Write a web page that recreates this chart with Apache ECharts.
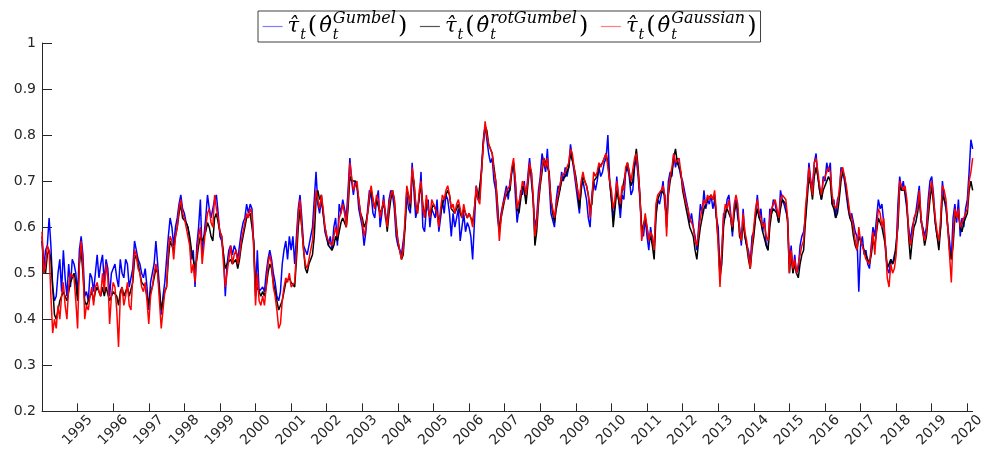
<!DOCTYPE html>
<html>
<head>
<meta charset="utf-8">
<script src="https://cdn.jsdelivr.net/npm/echarts@6/dist/echarts.min.js"></script>
<style>
  html, body { margin: 0; padding: 0; background: #fff; }
  #chart { width: 987px; height: 450px; }
</style>
</head>
<body>
<div id="chart"></div>
<script>
const startYear = 1994;
const pointsPerYear = 20;
const yearTicks = [1995,1996,1997,1998,1999,2000,2001,2002,2003,2004,2005,2006,2007,2008,2009,2010,2011,2012,2013,2014,2015,2016,2017,2018,2019,2020];
const yTicks = [0.2,0.3,0.4,0.5,0.6,0.7,0.8,0.9,1];
const seriesNames = ['Gumbel', 'rotGumbel', 'Gaussian'];

const tauGumbel = [
  0.58,0.51,0.55,0.56,0.62,0.56,0.47,0.44,0.45,0.50,0.53,0.46,0.55,0.49,0.45,0.52,0.47,0.53,0.52,0.50, // 1994
  0.45,0.55,0.58,0.54,0.45,0.46,0.44,0.50,0.49,0.46,0.50,0.54,0.49,0.52,0.54,0.48,0.53,0.51,0.45,0.50, // 1995
  0.50,0.52,0.49,0.47,0.53,0.50,0.49,0.53,0.52,0.47,0.49,0.51,0.57,0.55,0.53,0.52,0.50,0.49,0.51,0.47, // 1996
  0.42,0.48,0.50,0.52,0.57,0.52,0.47,0.41,0.45,0.48,0.48,0.58,0.62,0.60,0.56,0.60,0.62,0.65,0.67,0.64, // 1997
  0.63,0.61,0.60,0.57,0.53,0.55,0.47,0.56,0.60,0.66,0.54,0.58,0.62,0.67,0.64,0.62,0.64,0.66,0.67,0.63, // 1998
  0.58,0.57,0.54,0.45,0.52,0.55,0.56,0.54,0.56,0.55,0.53,0.56,0.59,0.61,0.62,0.65,0.63,0.65,0.64,0.56, // 1999
  0.45,0.55,0.46,0.46,0.47,0.46,0.50,0.53,0.55,0.53,0.50,0.48,0.45,0.44,0.46,0.52,0.55,0.57,0.53,0.58, // 2000
  0.55,0.58,0.52,0.58,0.64,0.67,0.62,0.56,0.55,0.54,0.56,0.58,0.60,0.66,0.72,0.65,0.63,0.66,0.63,0.59, // 2001
  0.59,0.56,0.58,0.55,0.60,0.62,0.56,0.65,0.63,0.66,0.64,0.62,0.68,0.75,0.70,0.67,0.70,0.69,0.64,0.62, // 2002
  0.60,0.56,0.59,0.64,0.68,0.67,0.63,0.62,0.66,0.68,0.60,0.63,0.67,0.62,0.61,0.66,0.68,0.67,0.64,0.58, // 2003
  0.56,0.56,0.54,0.57,0.60,0.67,0.64,0.63,0.74,0.68,0.62,0.62,0.66,0.72,0.60,0.59,0.64,0.66,0.60,0.64, // 2004
  0.64,0.62,0.66,0.59,0.62,0.66,0.63,0.67,0.66,0.63,0.58,0.63,0.60,0.62,0.64,0.57,0.60,0.63,0.59,0.61, // 2005
  0.60,0.58,0.53,0.61,0.69,0.67,0.66,0.73,0.79,0.82,0.79,0.76,0.74,0.75,0.70,0.68,0.62,0.59,0.63,0.65, // 2006
  0.65,0.69,0.66,0.70,0.72,0.74,0.67,0.61,0.64,0.68,0.67,0.70,0.66,0.71,0.75,0.70,0.66,0.60,0.62,0.68, // 2007
  0.71,0.76,0.74,0.72,0.77,0.70,0.63,0.63,0.60,0.66,0.69,0.68,0.72,0.70,0.73,0.71,0.73,0.78,0.75,0.72, // 2008
  0.69,0.66,0.63,0.69,0.70,0.68,0.66,0.62,0.60,0.67,0.70,0.68,0.70,0.73,0.71,0.72,0.74,0.75,0.80,0.70, // 2009
  0.66,0.62,0.65,0.71,0.66,0.62,0.67,0.66,0.72,0.73,0.71,0.67,0.68,0.73,0.75,0.71,0.66,0.60,0.58,0.62, // 2010
  0.58,0.55,0.60,0.57,0.56,0.63,0.66,0.65,0.67,0.70,0.65,0.62,0.70,0.72,0.71,0.76,0.73,0.75,0.73,0.71, // 2011
  0.70,0.68,0.66,0.64,0.61,0.63,0.60,0.58,0.55,0.60,0.65,0.63,0.68,0.64,0.66,0.65,0.67,0.64,0.66,0.62, // 2012
  0.60,0.50,0.54,0.63,0.62,0.66,0.67,0.63,0.58,0.64,0.66,0.62,0.60,0.56,0.64,0.58,0.56,0.55,0.52,0.58, // 2013
  0.59,0.63,0.67,0.62,0.64,0.59,0.62,0.56,0.55,0.64,0.63,0.66,0.65,0.63,0.61,0.68,0.66,0.65,0.65,0.62, // 2014
  0.52,0.56,0.50,0.54,0.50,0.51,0.56,0.58,0.59,0.62,0.68,0.74,0.70,0.69,0.74,0.76,0.71,0.68,0.66,0.71, // 2015
  0.70,0.74,0.72,0.74,0.65,0.66,0.62,0.66,0.67,0.73,0.72,0.70,0.70,0.64,0.62,0.63,0.61,0.59,0.58,0.46, // 2016
  0.56,0.58,0.54,0.55,0.52,0.51,0.56,0.60,0.58,0.62,0.66,0.64,0.65,0.61,0.55,0.51,0.50,0.53,0.52,0.54, // 2017
  0.55,0.65,0.71,0.68,0.70,0.67,0.64,0.60,0.57,0.60,0.60,0.63,0.66,0.69,0.61,0.60,0.58,0.60,0.66,0.70, // 2018
  0.71,0.67,0.61,0.58,0.57,0.60,0.70,0.66,0.64,0.60,0.57,0.53,0.62,0.65,0.61,0.66,0.58,0.62,0.60,0.64, // 2019
  0.66,0.72,0.79,0.77                                                                                  // 2020
];

const tauRotGumbel = [
  0.57,0.51,0.50,0.54,0.55,0.53,0.47,0.41,0.40,0.42,0.44,0.45,0.46,0.45,0.44,0.46,0.48,0.49,0.50,0.48, // 1994
  0.44,0.52,0.55,0.50,0.44,0.43,0.44,0.45,0.46,0.44,0.46,0.47,0.46,0.45,0.47,0.45,0.47,0.47,0.44,0.45, // 1995
  0.46,0.46,0.45,0.43,0.46,0.47,0.45,0.46,0.47,0.45,0.45,0.48,0.53,0.54,0.52,0.50,0.48,0.48,0.47,0.45, // 1996
  0.43,0.46,0.47,0.49,0.51,0.50,0.46,0.42,0.44,0.46,0.47,0.53,0.57,0.57,0.55,0.58,0.60,0.63,0.65,0.62, // 1997
  0.62,0.61,0.60,0.58,0.55,0.53,0.51,0.53,0.56,0.58,0.57,0.57,0.59,0.61,0.60,0.58,0.57,0.62,0.63,0.61, // 1998
  0.59,0.58,0.54,0.51,0.52,0.52,0.53,0.52,0.52,0.53,0.51,0.53,0.56,0.58,0.60,0.62,0.62,0.63,0.63,0.57, // 1999
  0.46,0.47,0.46,0.45,0.46,0.45,0.47,0.50,0.52,0.51,0.48,0.46,0.44,0.42,0.42,0.44,0.46,0.48,0.48,0.49, // 2000
  0.48,0.48,0.47,0.53,0.60,0.64,0.60,0.55,0.51,0.50,0.52,0.53,0.54,0.58,0.66,0.68,0.66,0.67,0.63,0.60, // 2001
  0.58,0.56,0.56,0.55,0.56,0.58,0.57,0.59,0.61,0.62,0.62,0.60,0.64,0.71,0.70,0.70,0.70,0.69,0.66,0.63, // 2002
  0.62,0.60,0.61,0.63,0.66,0.68,0.66,0.64,0.66,0.66,0.63,0.63,0.65,0.63,0.59,0.63,0.66,0.68,0.66,0.61, // 2003
  0.57,0.55,0.53,0.54,0.60,0.68,0.67,0.64,0.71,0.70,0.65,0.63,0.67,0.69,0.65,0.62,0.66,0.64,0.62,0.64, // 2004
  0.65,0.64,0.63,0.61,0.63,0.65,0.66,0.67,0.68,0.67,0.64,0.64,0.63,0.64,0.65,0.63,0.62,0.64,0.63,0.62, // 2005
  0.63,0.62,0.61,0.64,0.68,0.66,0.66,0.72,0.78,0.82,0.81,0.78,0.77,0.76,0.73,0.70,0.65,0.59,0.62,0.64, // 2006
  0.66,0.67,0.67,0.68,0.72,0.74,0.70,0.64,0.63,0.66,0.69,0.68,0.65,0.69,0.73,0.72,0.66,0.56,0.59,0.65, // 2007
  0.69,0.72,0.75,0.74,0.74,0.72,0.66,0.63,0.61,0.64,0.66,0.68,0.70,0.70,0.71,0.72,0.73,0.76,0.76,0.73, // 2008
  0.71,0.68,0.64,0.68,0.71,0.70,0.69,0.67,0.64,0.65,0.70,0.70,0.71,0.73,0.73,0.74,0.74,0.76,0.74,0.70, // 2009
  0.66,0.60,0.64,0.68,0.66,0.64,0.68,0.68,0.72,0.74,0.72,0.69,0.70,0.74,0.77,0.73,0.67,0.59,0.59,0.62, // 2010
  0.60,0.57,0.58,0.56,0.53,0.62,0.66,0.66,0.68,0.68,0.67,0.60,0.67,0.70,0.72,0.75,0.77,0.74,0.74,0.72, // 2011
  0.68,0.66,0.64,0.62,0.60,0.59,0.58,0.55,0.53,0.57,0.60,0.62,0.64,0.64,0.66,0.66,0.67,0.66,0.67,0.62, // 2012
  0.57,0.49,0.52,0.60,0.63,0.64,0.64,0.62,0.59,0.63,0.65,0.64,0.58,0.57,0.61,0.58,0.56,0.53,0.51,0.55, // 2013
  0.58,0.62,0.64,0.62,0.61,0.59,0.59,0.56,0.55,0.60,0.63,0.64,0.64,0.63,0.61,0.64,0.66,0.66,0.65,0.61, // 2014
  0.50,0.54,0.50,0.52,0.50,0.49,0.52,0.54,0.55,0.61,0.66,0.71,0.69,0.66,0.71,0.73,0.71,0.68,0.66,0.68, // 2015
  0.69,0.70,0.71,0.70,0.65,0.64,0.62,0.63,0.66,0.70,0.72,0.71,0.68,0.65,0.62,0.61,0.58,0.56,0.55,0.58, // 2016
  0.57,0.57,0.55,0.54,0.53,0.52,0.54,0.57,0.56,0.59,0.62,0.62,0.60,0.60,0.56,0.51,0.52,0.53,0.52,0.53, // 2017
  0.53,0.60,0.69,0.68,0.68,0.68,0.65,0.58,0.53,0.57,0.60,0.61,0.63,0.66,0.62,0.59,0.56,0.58,0.62,0.66, // 2018
  0.69,0.65,0.61,0.58,0.55,0.60,0.67,0.67,0.65,0.60,0.55,0.53,0.56,0.62,0.62,0.63,0.60,0.59,0.61,0.62, // 2019
  0.63,0.68,0.70,0.68                                                                                  // 2020
];

const tauGaussian = [
  0.59,0.50,0.52,0.56,0.55,0.45,0.37,0.40,0.38,0.43,0.40,0.45,0.48,0.43,0.40,0.47,0.50,0.50,0.49,0.44, // 1994
  0.38,0.52,0.57,0.52,0.40,0.43,0.42,0.45,0.47,0.43,0.47,0.48,0.46,0.45,0.50,0.46,0.52,0.49,0.39,0.45, // 1995
  0.48,0.47,0.42,0.34,0.45,0.47,0.43,0.45,0.48,0.43,0.42,0.49,0.55,0.54,0.51,0.50,0.47,0.46,0.48,0.44, // 1996
  0.39,0.45,0.47,0.50,0.52,0.50,0.44,0.38,0.42,0.46,0.47,0.55,0.58,0.57,0.53,0.58,0.60,0.64,0.66,0.63, // 1997
  0.62,0.60,0.58,0.56,0.50,0.52,0.48,0.54,0.58,0.60,0.52,0.56,0.60,0.63,0.64,0.61,0.60,0.67,0.64,0.62, // 1998
  0.59,0.58,0.52,0.47,0.50,0.53,0.56,0.52,0.54,0.55,0.52,0.54,0.57,0.59,0.61,0.63,0.62,0.64,0.63,0.55, // 1999
  0.43,0.50,0.44,0.43,0.45,0.43,0.47,0.52,0.54,0.52,0.47,0.45,0.42,0.38,0.39,0.44,0.47,0.49,0.48,0.50, // 2000
  0.47,0.47,0.48,0.55,0.63,0.66,0.60,0.55,0.52,0.51,0.53,0.55,0.57,0.63,0.68,0.66,0.64,0.67,0.64,0.60, // 2001
  0.58,0.57,0.57,0.56,0.58,0.60,0.58,0.62,0.63,0.65,0.63,0.60,0.66,0.74,0.71,0.68,0.69,0.70,0.66,0.63, // 2002
  0.61,0.58,0.60,0.63,0.67,0.69,0.66,0.64,0.67,0.66,0.62,0.64,0.66,0.63,0.60,0.65,0.67,0.68,0.66,0.60, // 2003
  0.57,0.55,0.53,0.55,0.62,0.69,0.67,0.65,0.73,0.70,0.65,0.63,0.68,0.70,0.64,0.62,0.67,0.64,0.62,0.66, // 2004
  0.66,0.64,0.63,0.60,0.64,0.67,0.66,0.68,0.69,0.67,0.64,0.65,0.63,0.65,0.66,0.64,0.62,0.65,0.63,0.62, // 2005
  0.63,0.62,0.60,0.64,0.69,0.66,0.65,0.72,0.78,0.83,0.80,0.78,0.77,0.76,0.72,0.70,0.64,0.57,0.62,0.65, // 2006
  0.66,0.68,0.68,0.69,0.73,0.75,0.70,0.64,0.64,0.67,0.70,0.69,0.67,0.70,0.74,0.72,0.67,0.58,0.61,0.66, // 2007
  0.70,0.73,0.75,0.73,0.75,0.71,0.66,0.64,0.62,0.65,0.67,0.69,0.71,0.71,0.72,0.73,0.74,0.77,0.76,0.73, // 2008
  0.70,0.68,0.66,0.70,0.72,0.70,0.69,0.67,0.62,0.66,0.72,0.71,0.72,0.74,0.73,0.74,0.75,0.76,0.73,0.70, // 2009
  0.68,0.64,0.66,0.70,0.67,0.65,0.69,0.68,0.73,0.74,0.72,0.70,0.70,0.75,0.76,0.72,0.67,0.57,0.60,0.63, // 2010
  0.60,0.57,0.59,0.58,0.55,0.65,0.67,0.67,0.68,0.69,0.67,0.58,0.68,0.71,0.73,0.76,0.74,0.74,0.75,0.72, // 2011
  0.69,0.67,0.65,0.64,0.62,0.61,0.60,0.57,0.56,0.59,0.62,0.64,0.66,0.65,0.67,0.66,0.67,0.66,0.68,0.63, // 2012
  0.56,0.47,0.55,0.62,0.65,0.64,0.66,0.62,0.60,0.65,0.67,0.65,0.59,0.57,0.63,0.59,0.57,0.54,0.51,0.56, // 2013
  0.60,0.64,0.66,0.63,0.62,0.60,0.61,0.58,0.57,0.62,0.64,0.65,0.66,0.64,0.62,0.66,0.67,0.67,0.66,0.62, // 2014
  0.50,0.55,0.51,0.53,0.50,0.50,0.54,0.56,0.57,0.64,0.68,0.73,0.70,0.67,0.74,0.75,0.72,0.69,0.67,0.70, // 2015
  0.71,0.72,0.73,0.72,0.67,0.65,0.64,0.65,0.68,0.72,0.73,0.71,0.69,0.66,0.63,0.62,0.60,0.57,0.55,0.60, // 2016
  0.57,0.56,0.56,0.53,0.53,0.52,0.55,0.59,0.54,0.60,0.64,0.63,0.60,0.62,0.56,0.49,0.47,0.52,0.50,0.51, // 2017
  0.54,0.62,0.70,0.69,0.68,0.69,0.66,0.59,0.56,0.58,0.62,0.62,0.64,0.68,0.62,0.59,0.57,0.59,0.64,0.68, // 2018
  0.70,0.66,0.62,0.59,0.57,0.62,0.69,0.68,0.66,0.60,0.54,0.48,0.58,0.64,0.62,0.64,0.60,0.60,0.62,0.62, // 2019
  0.64,0.70,0.72,0.75                                                                                  // 2020
];

// ---- chart ----
const chart = echarts.init(document.getElementById('chart'), null, { renderer: 'canvas' });

function pairs(vals) {
  return vals.map((v, i) => [startYear + i / pointsPerYear, v]);
}
const lastX = startYear + (tauGaussian.length - 1) / pointsPerYear;

const axisColor = '#262626';
const labelFont = { fontFamily: 'DejaVu Sans', fontSize: 14, color: '#262626' };

const legendColors = ['#7f7fff', '#555555', '#ff7f7f'];
const lineColors = ['#0000ff', '#000000', '#ff0000'];
const values = [tauGumbel, tauRotGumbel, tauGaussian];

const serif = 'DejaVu Serif';
chart.setOption({
  animation: false,
  backgroundColor: '#ffffff',
  grid: { left: 42, right: 7, top: 43, bottom: 37, containLabel: false },
  legend: {
    left: 258,
    top: 11,
    orient: 'horizontal',
    padding: [0, 2, 0, 4],
    itemGap: 10,
    itemWidth: 20,
    itemHeight: 12,
    borderColor: '#404040',
    borderWidth: 1,
    borderRadius: 0,
    backgroundColor: '#ffffff',
    itemStyle: { opacity: 0 },
    data: seriesNames.map((n, i) => ({ name: n, itemStyle: { opacity: 0 }, lineStyle: { color: legendColors[i], width: 1.2 } })),
    formatter: name => '{m|τ̂}{sb|t}{p|(}{m|θ̂}{sz|t}{sp|' + name + '}{p|)}',
    textStyle: {
      color: '#000',
      rich: {
        m:  { fontFamily: serif, fontStyle: 'italic', fontSize: 21, lineHeight: 31, verticalAlign: 'middle', color: '#000', padding: [0, 1, 0, 0] },
        p:  { fontFamily: serif, fontSize: 24, lineHeight: 31, verticalAlign: 'middle', color: '#000', padding: [0, 2, 0, 2] },
        sb: { fontFamily: serif, fontStyle: 'italic', fontSize: 14, lineHeight: 14, verticalAlign: 'bottom', color: '#000' },
        sz: { fontFamily: serif, fontStyle: 'italic', fontSize: 14, lineHeight: 14, verticalAlign: 'bottom', color: '#000', width: 0 },
        sp: { fontFamily: serif, fontStyle: 'italic', fontSize: 16, lineHeight: 16, verticalAlign: 'top', color: '#000' }
      }
    }
  },
  xAxis: {
    type: 'value',
    min: startYear,
    max: lastX,
    interval: 1,
    splitLine: { show: false },
    axisLine: { show: true, onZero: false, lineStyle: { color: axisColor, width: 1 } },
    axisTick: { show: true, inside: true, length: 8, customValues: yearTicks, lineStyle: { color: axisColor } },
    axisLabel: {
      customValues: yearTicks,
      rotate: 45,
      align: 'center',
      verticalAlign: 'middle',
      margin: 19,
      formatter: v => String(Math.round(v)),
      ...labelFont
    }
  },
  yAxis: {
    type: 'value',
    min: 0.2,
    max: 1,
    interval: 0.1,
    splitLine: { show: false },
    axisLine: { show: true, lineStyle: { color: axisColor, width: 1 } },
    axisTick: { show: true, inside: true, length: 10, customValues: yTicks, lineStyle: { color: axisColor } },
    axisLabel: {
      customValues: yTicks,
      margin: 6,
      formatter: v => String(+v.toFixed(1)),
      ...labelFont
    }
  },
  series: seriesNames.map((n, i) => ({
    name: n,
    type: 'line',
    data: pairs(values[i]),
    symbol: 'none',
    showSymbol: false,
    smooth: false,
    lineStyle: { color: lineColors[i], width: 1.5 },
    itemStyle: { color: lineColors[i] },
    emphasis: { disabled: true },
    z: 2 + i
  }))
});
</script>
</body>
</html>
